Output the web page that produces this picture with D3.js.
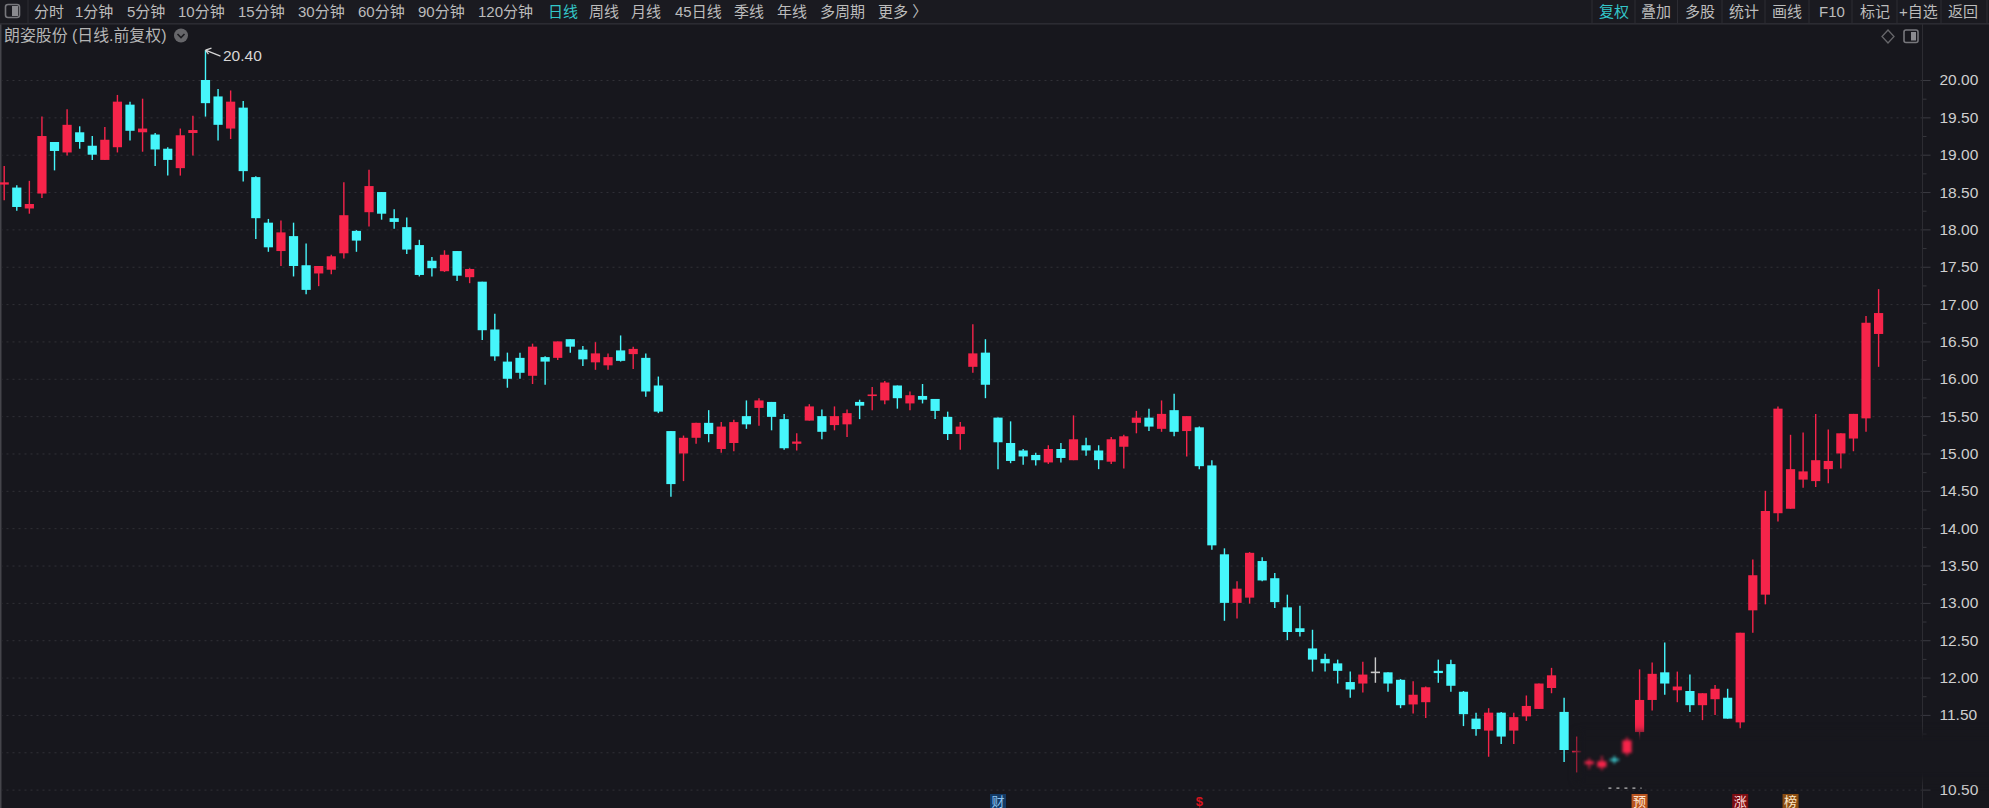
<!DOCTYPE html>
<html lang="zh">
<head>
<meta charset="utf-8">
<title>朗姿股份</title>
<script src="https://cdnjs.cloudflare.com/ajax/libs/d3/7.8.5/d3.min.js"></script>
<style>
html,body{margin:0;padding:0;background:#17171d;overflow:hidden}
svg{display:block}
text{font-family:"Liberation Sans","Noto Sans CJK SC",sans-serif}
</style>
</head>
<body>
<svg id="chart" width="1989" height="808"></svg>
<script>
const opens=[18.60,18.56,18.28,18.48,19.17,19.03,19.30,19.12,18.93,19.10,
19.67,19.30,19.27,19.08,18.82,19.29,20.00,19.78,19.35,19.63,
18.70,18.09,17.71,17.91,17.52,17.41,17.46,17.68,17.98,18.23,
18.50,18.15,18.03,17.79,17.58,17.44,17.71,17.36,17.30,16.66,
16.23,16.28,16.04,16.29,16.28,16.53,16.39,16.22,16.18,16.38,
16.33,16.28,15.91,15.30,15.00,15.21,15.41,15.06,15.14,15.50,
15.61,15.69,15.46,15.13,15.44,15.50,15.38,15.39,15.69,15.77,
15.71,15.91,15.67,15.77,15.73,15.49,15.26,16.16,16.35,15.48,
15.14,15.04,14.98,14.88,15.06,14.91,15.11,15.04,14.89,15.09,
15.41,15.48,15.33,15.58,15.30,15.35,14.84,13.65,13.00,13.07,
13.56,13.33,12.94,12.66,12.39,12.25,12.19,11.94,11.92,12.08,
12.07,11.97,11.64,11.67,12.09,12.18,11.81,11.45,11.29,11.53,
11.29,11.48,11.58,11.86,11.54,11.00,10.84,10.80,10.91,10.99,
11.27,11.70,12.07,11.83,11.82,11.63,11.71,11.73,11.40,12.90,
13.11,14.20,14.26,14.65,14.63,14.79,15.00,15.20,15.47,16.60];
const closes=[18.63,18.30,18.34,19.25,19.05,19.40,19.17,19.00,19.20,19.71,
19.32,19.35,19.07,18.93,19.26,19.33,19.69,19.40,19.71,18.78,
18.15,17.76,17.96,17.51,17.19,17.51,17.64,18.19,17.85,18.58,
18.21,18.10,17.73,17.39,17.48,17.66,17.38,17.47,16.65,16.30,
16.00,16.08,16.43,16.23,16.50,16.43,16.26,16.34,16.29,16.24,
16.40,15.83,15.56,14.59,15.21,15.41,15.26,15.36,15.42,15.39,
15.71,15.49,15.07,15.16,15.63,15.29,15.50,15.54,15.64,15.79,
15.95,15.74,15.78,15.72,15.57,15.26,15.36,16.34,15.92,15.15,
14.90,14.96,14.91,15.06,14.94,15.19,15.04,14.91,15.19,15.23,
15.48,15.36,15.53,15.29,15.50,14.83,13.77,13.00,13.19,13.67,
13.30,13.01,12.61,12.61,12.24,12.19,12.09,11.84,12.04,12.08,
11.92,11.63,11.77,11.87,12.06,11.89,11.51,11.31,11.53,11.21,
11.47,11.62,11.92,12.03,11.03,11.02,10.88,10.88,10.89,11.16,
11.70,12.05,11.92,11.88,11.63,11.79,11.85,11.45,12.60,13.37,
14.23,15.60,14.79,14.76,14.91,14.90,15.27,15.53,16.75,16.88];
const highs=[18.85,18.59,18.65,19.51,19.17,19.61,19.38,19.25,19.37,19.80,
19.71,19.75,19.29,19.10,19.35,19.52,20.40,19.88,19.86,19.72,
18.71,18.14,18.12,18.09,17.81,17.51,17.66,18.63,17.99,18.80,
18.50,18.27,18.16,17.86,17.63,17.72,17.71,17.48,17.30,16.87,
16.35,16.35,16.47,16.30,16.50,16.53,16.44,16.49,16.34,16.58,
16.43,16.34,16.03,15.30,15.24,15.41,15.58,15.42,15.45,15.71,
15.74,15.69,15.53,15.27,15.66,15.59,15.63,15.59,15.72,15.89,
15.97,15.91,15.83,15.93,15.73,15.56,15.42,16.73,16.53,15.48,
15.43,15.06,15.01,15.11,15.14,15.51,15.21,15.11,15.22,15.25,
15.57,15.60,15.71,15.80,15.50,15.36,14.91,13.73,13.29,13.68,
13.61,13.40,13.11,12.96,12.64,12.32,12.24,12.08,12.21,12.27,
12.07,11.98,11.95,11.88,12.24,12.24,11.82,11.53,11.59,11.54,
11.53,11.76,11.92,12.13,11.73,11.21,10.92,10.95,10.95,11.20,
12.11,12.20,12.47,12.08,12.04,11.79,11.90,11.85,12.60,13.58,
14.50,15.63,15.25,15.28,15.53,15.32,15.27,15.53,16.84,17.20];
const lows=[18.39,18.25,18.21,18.42,18.79,18.99,19.08,18.93,18.93,19.03,
19.19,19.04,18.85,18.72,18.72,18.99,19.51,19.19,19.21,18.64,
17.87,17.70,17.51,17.37,17.13,17.24,17.40,17.61,17.70,18.04,
18.13,18.01,17.67,17.37,17.37,17.43,17.31,17.28,16.52,16.24,
15.88,16.00,15.93,15.92,16.25,16.35,16.17,16.12,16.12,16.23,
16.13,15.76,15.54,14.42,14.63,15.13,15.15,15.01,15.03,15.33,
15.37,15.31,15.05,15.04,15.44,15.19,15.31,15.22,15.46,15.58,
15.66,15.60,15.58,15.67,15.46,15.18,15.05,16.08,15.74,14.79,
14.87,14.85,14.84,14.86,14.88,14.91,14.97,14.79,14.86,14.80,
15.27,15.30,15.29,15.23,14.96,14.79,13.71,12.76,12.79,12.99,
13.29,12.93,12.50,12.55,12.08,12.08,11.92,11.73,11.80,11.93,
11.81,11.59,11.52,11.46,11.93,11.81,11.35,11.22,10.94,11.11,
11.11,11.42,11.58,11.79,10.87,10.73,10.78,10.76,10.85,10.95,
11.16,11.56,11.77,11.67,11.54,11.43,11.50,11.45,11.32,12.60,
12.98,14.09,14.26,14.54,14.55,14.60,14.80,15.03,15.29,16.16];

const gridPrices=[10.5,11,11.5,12,12.5,13,13.5,14,14.5,15,15.5,16,16.5,17,17.5,18,18.5,19,19.5,20];
const priceLabels=[10.5,11.5,12,12.5,13,13.5,14,14.5,15,15.5,16,16.5,17,17.5,18,18.5,19,19.5,20];
const minorPrices=[10.75,11.25,11.75,12.25,12.75,13.25,13.75,14.25,14.75,15.25,15.75,16.25,16.75,17.25,17.75,18.25,18.75,19.25,19.75];
const smudgedDays=[126,127,128,129];
const peakIndex=16, peakLabel="20.40";
const leftMenu=["分时","1分钟","5分钟","10分钟","15分钟","30分钟","60分钟","90分钟","120分钟","日线","周线","月线","45日线","季线","年线","多周期","更多\u00a0〉"];
const leftMenuX=[34,75,127,178,238,298,358,418,478,548,589,631,675,734,777,820,878];
const rightMenu=["复权","叠加","多股","统计","画线","F10","标记","+自选","返回"];
const rightMenuX=[1599,1641,1685,1729,1772,1819,1860,1899,1948];
const rightSeps=[1592,1635,1677.5,1722,1765,1809,1852,1897,1941,1987];
const activeMenu=["日线","复权"];
const title="朗姿股份 (日线.前复权)";
const events=[
 {i:79,t:"财",fg:"#8fc4f0",bg:"#123a66"},
 {i:95,t:"$",fg:"#d8141e",bg:"none"},
 {i:130,t:"预",fg:"#ffe6cf",bg:"#b9541f"},
 {i:138,t:"涨",fg:"#ffd9d9",bg:"#7d0d12"},
 {i:142,t:"榜",fg:"#ffe9c8",bg:"#8a4c10"}
];

const W=1989,H=808,axisX=1922.5;
const bg="#17171d",red="#f6244a",cyan="#46f6fb",flat="#c9c9c9";
const x=d3.scaleLinear().domain([0,149]).range([4.2,1878.6]);
const y=d3.scaleLinear().domain([10.5,20]).range([789.6,80]);
const days=d3.range(opens.length).map(i=>({i,o:opens[i],c:closes[i],h:highs[i],l:lows[i]}));
const colorOf=d=>d.c>d.o?red:d.c<d.o?cyan:flat;

const svg=d3.select("#chart");
const defs=svg.append("defs");
defs.append("filter").attr("id","blurBig").attr("x","-20%").attr("y","-60%").attr("width","140%").attr("height","220%")
  .attr("color-interpolation-filters","sRGB")
  .append("feGaussianBlur").attr("stdDeviation",4);
defs.append("filter").attr("id","blurSmall").attr("x","-50%").attr("y","-50%").attr("width","200%").attr("height","200%")
  .attr("color-interpolation-filters","sRGB")
  .append("feGaussianBlur").attr("stdDeviation",1.6);

svg.append("rect").attr("width",W).attr("height",H).attr("fill",bg);
svg.append("rect").attr("width",1.5).attr("y",24).attr("height",H-24).attr("fill","#45454b");

// gridlines
const grid=d3.axisLeft(y).tickValues(gridPrices).tickSize(axisX-2).tickFormat("");
svg.append("g").attr("transform",`translate(${axisX},0)`).call(grid).call(g=>{
  g.select(".domain").remove();
  g.selectAll("line").attr("stroke","#313137").attr("stroke-width",1).attr("stroke-dasharray","2 4");
});

// price axis
const axisMajor=d3.axisRight(y).tickValues(priceLabels).tickSize(8).tickPadding(9).tickFormat(d3.format(".2f"));
svg.append("g").attr("transform",`translate(${axisX},0)`).call(axisMajor).call(g=>{
  g.select(".domain").remove();
  g.selectAll("line").attr("stroke","#3a3a41");
  g.selectAll("text").attr("fill","#cfcfcf").attr("font-size",15.5).attr("font-family",'"Liberation Sans",sans-serif');
});
const axisMinor=d3.axisRight(y).tickValues(minorPrices).tickSize(4).tickFormat("");
svg.append("g").attr("transform",`translate(${axisX},0)`).call(axisMinor).call(g=>{
  g.select(".domain").remove();
  g.selectAll("line").attr("stroke","#36363c");
});
svg.append("line").attr("x1",axisX).attr("x2",axisX).attr("y1",24).attr("y2",H).attr("stroke","#2c2c32");

// candles
function drawCandles(sel){
  sel.append("line").attr("x1",d=>x(d.i)).attr("x2",d=>x(d.i))
    .attr("y1",d=>y(d.h)).attr("y2",d=>y(d.l))
    .attr("stroke",colorOf).attr("stroke-width",1.4);
  sel.append("rect").attr("x",d=>x(d.i)-4.6).attr("width",9.2)
    .attr("y",d=>y(Math.max(d.o,d.c)))
    .attr("height",d=>Math.max(1.6,Math.abs(y(d.o)-y(d.c))))
    .attr("fill",colorOf);
}
const isSmudged=d=>smudgedDays.includes(d.i);
svg.append("g").selectAll("g").data(days.filter(d=>!isSmudged(d))).join("g").call(drawCandles);

// erased watermark patch
svg.append("rect").attr("x",x(126)-12).attr("y",y(11.26)).attr("width",W).attr("height",y(10.62)-y(11.26))
  .attr("fill",bg).attr("filter","url(#blurBig)");
svg.append("g").attr("filter","url(#blurSmall)").selectAll("g").data(days.filter(isSmudged)).join("g").call(drawCandles);
svg.append("line").attr("x1",x(128)-6).attr("x2",x(130)+2).attr("y1",y(10.52)).attr("y2",y(10.52))
  .attr("stroke","#b9b9b9").attr("stroke-width",1.4).attr("stroke-dasharray","3 5");

// event flags
const ev=svg.append("g").selectAll("g").data(events).join("g")
  .attr("transform",d=>`translate(${x(d.i)},794)`);
ev.append("rect").attr("x",-8).attr("width",16).attr("height",14).attr("fill",d=>d.bg);
ev.append("text").attr("text-anchor","middle").attr("y",12).attr("font-size",13).attr("font-weight",d=>d.bg==="none"?"bold":"normal").attr("fill",d=>d.fg).text(d=>d.t);

// peak annotation
const peak=svg.append("g");
const px=x(peakIndex), py=y(highs[peakIndex]);
peak.append("path").attr("d",`M${px+15},${py+6}L${px},${py}M${px},${py}l6,-2M${px},${py}l3,4`)
  .attr("stroke","#d6d6d6").attr("fill","none").attr("stroke-width",1.2);
peak.append("text").attr("x",px+17.5).attr("y",py+11).attr("font-size",15.5).attr("fill","#d6d6d6").text(peakLabel);

// toolbar
svg.append("rect").attr("width",W).attr("height",23).attr("fill","#1a1a20");
svg.append("rect").attr("y",23).attr("width",W).attr("height",1.6).attr("fill","#2b2b32");
svg.append("rect").attr("x",5.5).attr("y",4.5).attr("width",14).attr("height",13).attr("rx",2.5).attr("fill","none").attr("stroke","#77777c").attr("stroke-width",1.6);
svg.append("rect").attr("x",12).attr("y",6).attr("width",6).attr("height",10).attr("fill","#8a8a8f");
svg.append("line").attr("x1",28).attr("x2",28).attr("y1",0).attr("y2",23).attr("stroke","#2c2c33");
const menuColor=t=>activeMenu.includes(t)?"#33c6c9":"#bcbcbc";
svg.append("g").selectAll("text").data(leftMenu).join("text")
  .attr("x",(d,i)=>leftMenuX[i]).attr("y",17).attr("font-size",15).attr("fill",menuColor).text(d=>d);
svg.append("g").selectAll("text").data(rightMenu).join("text")
  .attr("x",(d,i)=>rightMenuX[i]).attr("y",17).attr("font-size",15).attr("fill",menuColor).text(d=>d);
svg.append("g").selectAll("line").data(rightSeps).join("line")
  .attr("x1",d=>d).attr("x2",d=>d).attr("y1",0).attr("y2",23).attr("stroke","#2c2c33");

// title row
svg.append("text").attr("x",4).attr("y",41).attr("font-size",15.9).attr("fill","#b4b4b4").text(title);
svg.append("circle").attr("cx",181).attr("cy",35.5).attr("r",7).attr("fill","#66666a");
svg.append("path").attr("d","M177.5,34l3.5,3.5l3.5,-3.5").attr("fill","none").attr("stroke","#1c1c20").attr("stroke-width",1.6);
svg.append("path").attr("d","M1888,30l6,6.5l-6,6.5l-6,-6.5z").attr("fill","none").attr("stroke","#66666a").attr("stroke-width",1.3);
svg.append("rect").attr("x",1904).attr("y",30).attr("width",14).attr("height",12.5).attr("rx",2).attr("fill","none").attr("stroke","#77777c").attr("stroke-width",1.6);
svg.append("rect").attr("x",1911).attr("y",32).attr("width",5).attr("height",8.5).attr("fill","#8a8a8f");
</script>
</body>
</html>
